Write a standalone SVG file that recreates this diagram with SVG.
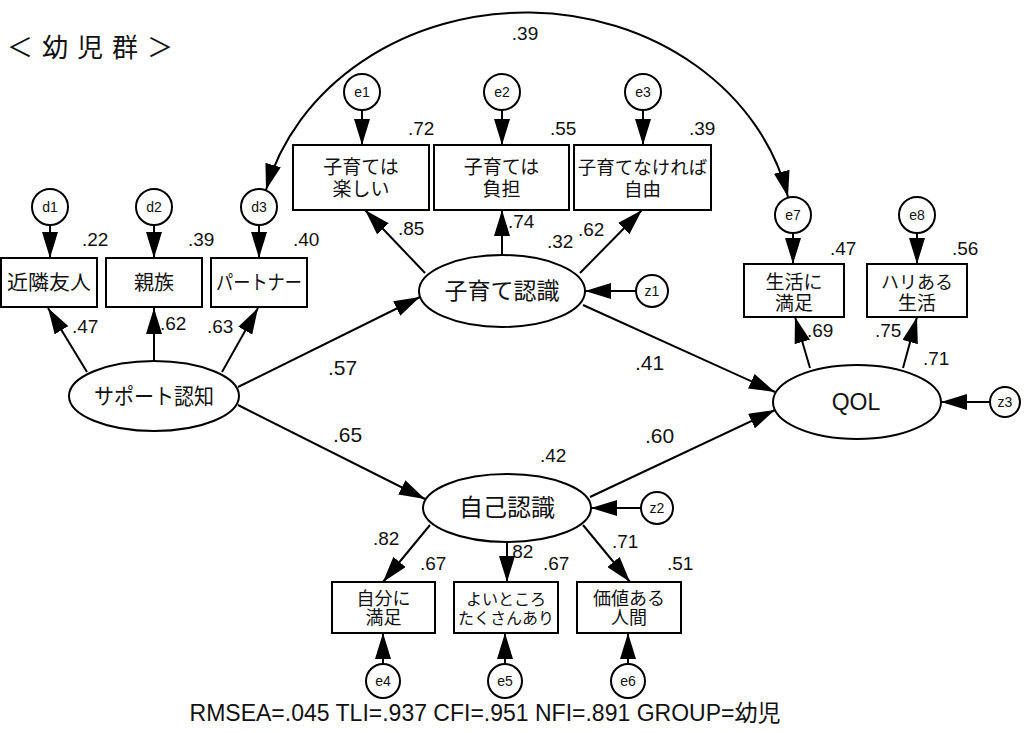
<svg xmlns="http://www.w3.org/2000/svg" width="1030" height="733" viewBox="0 0 1030 733">
<style>
.bx{fill:#fff;stroke:#000;stroke-width:2}
.ov{fill:#fff;stroke:#000;stroke-width:2}
.ln{fill:none;stroke:#000;stroke-width:2;marker-end:url(#ah)}
.jp{font-family:"Noto Sans CJK JP","Noto Sans CJK SC",sans-serif;fill:#111;text-anchor:middle}
.num{font-family:"Liberation Sans",Arial,sans-serif;font-size:19px;fill:#111}
.big{font-family:"Liberation Sans",Arial,sans-serif;font-size:21px;fill:#111}
.sm{font-family:"Liberation Sans",Arial,sans-serif;font-size:14px;fill:#111;text-anchor:middle}
</style>
<defs>
<marker id="ah" markerUnits="userSpaceOnUse" markerWidth="26" markerHeight="16" refX="26" refY="8" orient="auto-start-reverse" viewBox="0 0 26 16">
<path d="M0,0 L26,8 L0,16 Z" fill="#000"/>
</marker>
</defs>
<rect width="1030" height="733" fill="#fff"/>
<text x="7" y="57" class="jp" style="text-anchor:start;font-size:26px;letter-spacing:9px">＜幼児群＞</text>

<g id="connectors">
<path class="ln" d="M266 190 A268 234 0 0 1 788 197" style="marker-start:url(#ah)"/>
<path class="ln" d="M87 372 L48 308"/>
<path class="ln" d="M154 361 L154 308"/>
<path class="ln" d="M222 372 L258 308"/>
<path class="ln" d="M50 225 L50 258"/>
<path class="ln" d="M154 225 L154 258"/>
<path class="ln" d="M259 225 L259 258"/>
<path class="ln" d="M362 110 L362 145"/>
<path class="ln" d="M502 110 L502 145"/>
<path class="ln" d="M643 110 L643 145"/>
<path class="ln" d="M425 273 L365 210"/>
<path class="ln" d="M502 255 L502 210"/>
<path class="ln" d="M580 273 L642 210"/>
<path class="ln" d="M636 291 L585 291"/>
<path class="ln" d="M238 387 L420 297"/>
<path class="ln" d="M238 405 L425 499"/>
<path class="ln" d="M583 305 L775 392"/>
<path class="ln" d="M590 497 L775 410"/>
<path class="ln" d="M641 508 L591 508"/>
<path class="ln" d="M990 402 L941 402"/>
<path class="ln" d="M810 368 L795 317"/>
<path class="ln" d="M903 368 L917 317"/>
<path class="ln" d="M793 233 L793 264"/>
<path class="ln" d="M917 233 L917 264"/>
<path class="ln" d="M430 525 L383 582"/>
<path class="ln" d="M507 542 L507 582"/>
<path class="ln" d="M583 525 L630 582"/>
<path class="ln" d="M383 664 L383 633"/>
<path class="ln" d="M505 664 L505 633"/>
<path class="ln" d="M628 664 L628 633"/>
</g>

<g id="d1"><circle class="ov" cx="50" cy="207" r="18"/><text class="sm" x="50" y="212">d1</text></g>
<g id="d2"><circle class="ov" cx="154" cy="207" r="18"/><text class="sm" x="154" y="212">d2</text></g>
<g id="d3"><circle class="ov" cx="259" cy="207" r="18"/><text class="sm" x="259" y="212">d3</text></g>
<g id="e1"><circle class="ov" cx="362" cy="92" r="18"/><text class="sm" x="362" y="97">e1</text></g>
<g id="e2"><circle class="ov" cx="502" cy="92" r="18"/><text class="sm" x="502" y="97">e2</text></g>
<g id="e3"><circle class="ov" cx="643" cy="92" r="18"/><text class="sm" x="643" y="97">e3</text></g>
<g id="e7"><circle class="ov" cx="793" cy="215" r="18"/><text class="sm" x="793" y="220">e7</text></g>
<g id="e8"><circle class="ov" cx="917" cy="215" r="18"/><text class="sm" x="917" y="220">e8</text></g>
<g id="e4"><circle class="ov" cx="383" cy="681" r="17"/><text class="sm" x="383" y="686">e4</text></g>
<g id="e5"><circle class="ov" cx="505" cy="681" r="17"/><text class="sm" x="505" y="686">e5</text></g>
<g id="e6"><circle class="ov" cx="628" cy="681" r="17"/><text class="sm" x="628" y="686">e6</text></g>
<g id="z1"><circle class="ov" cx="652" cy="291" r="16"/><text class="sm" x="652" y="296">z1</text></g>
<g id="z2"><circle class="ov" cx="657" cy="508" r="16"/><text class="sm" x="657" y="513">z2</text></g>
<g id="z3"><circle class="ov" cx="1005" cy="402" r="15"/><text class="sm" x="1005" y="407">z3</text></g>

<g id="kinrin"><rect class="bx" x="1" y="258" width="96" height="49"/><text class="jp" x="49" y="290" style="font-size:20px" textLength="84" lengthAdjust="spacingAndGlyphs">近隣友人</text></g>
<g id="shinzoku"><rect class="bx" x="106" y="258" width="96" height="49"/><text class="jp" x="154" y="290" style="font-size:20px">親族</text></g>
<g id="partner"><rect class="bx" x="211" y="258" width="96" height="49"/><text class="jp" x="259" y="290" style="font-size:20px" textLength="86" lengthAdjust="spacingAndGlyphs">パートナー</text></g>

<g id="tanoshii"><rect class="bx" x="293" y="145" width="136" height="65"/><text class="jp" style="font-size:19px"><tspan x="361" y="174">子育ては</tspan><tspan x="361" y="196">楽しい</tspan></text></g>
<g id="futan"><rect class="bx" x="434" y="145" width="135" height="65"/><text class="jp" style="font-size:19px"><tspan x="501.5" y="174">子育ては</tspan><tspan x="501.5" y="196">負担</tspan></text></g>
<g id="jiyu"><rect class="bx" x="574" y="145" width="137" height="65"/><text class="jp" style="font-size:18.5px"><tspan x="642.5" y="174">子育てなければ</tspan><tspan x="642.5" y="196">自由</tspan></text></g>

<g id="seikatsu"><rect class="bx" x="744" y="264" width="100" height="53"/><text class="jp" style="font-size:19px"><tspan x="794" y="289">生活に</tspan><tspan x="794" y="310">満足</tspan></text></g>
<g id="hari"><rect class="bx" x="867" y="264" width="100" height="53"/><text class="jp" style="font-size:18px"><tspan x="917" y="289">ハリある</tspan><tspan x="917" y="310" style="font-size:19px">生活</tspan></text></g>

<g id="jibun"><rect class="bx" x="332" y="582" width="103" height="51"/><text class="jp" style="font-size:18px"><tspan x="383.5" y="605">自分に</tspan><tspan x="383.5" y="624">満足</tspan></text></g>
<g id="yoi"><rect class="bx" x="454" y="582" width="104" height="51"/><text class="jp" style="font-size:16px"><tspan x="506" y="605">よいところ</tspan><tspan x="506" y="624">たくさんあり</tspan></text></g>
<g id="kachi"><rect class="bx" x="577" y="582" width="104" height="51"/><text class="jp" style="font-size:18px"><tspan x="629" y="605">価値ある</tspan><tspan x="629" y="624">人間</tspan></text></g>

<g id="support"><ellipse class="ov" cx="154" cy="396" rx="85" ry="35"/><text class="jp" x="154" y="404" style="font-size:22px" textLength="120" lengthAdjust="spacingAndGlyphs">サポート認知</text></g>
<g id="kosodate"><ellipse class="ov" cx="502" cy="291" rx="83" ry="36"/><text class="jp" x="502" y="299" style="font-size:23px" textLength="115" lengthAdjust="spacingAndGlyphs">子育て認識</text></g>
<g id="jiko"><ellipse class="ov" cx="507" cy="508" rx="84" ry="34"/><text class="jp" x="507" y="516" style="font-size:24px">自己認識</text></g>
<g id="qol"><ellipse class="ov" cx="857" cy="402" rx="84" ry="37"/><text x="856" y="410" style="font-family:'Liberation Sans',Arial,sans-serif;font-size:23px;text-anchor:middle;fill:#111">QOL</text></g>

<g id="labels">
<text class="num" x="525" y="40" style="text-anchor:middle">.39</text>
<text class="num" x="408" y="135">.72</text>
<text class="num" x="550" y="135">.55</text>
<text class="num" x="689" y="135">.39</text>
<text class="num" x="398" y="235">.85</text>
<text class="num" x="508" y="228">.74</text>
<text class="num" x="547" y="248">.32</text>
<text class="num" x="578" y="236">.62</text>
<text class="num" x="82" y="246">.22</text>
<text class="num" x="188" y="246">.39</text>
<text class="num" x="293" y="246">.40</text>
<text class="num" x="72" y="333">.47</text>
<text class="num" x="160" y="330">.62</text>
<text class="num" x="207" y="333">.63</text>
<text class="big" x="328" y="375">.57</text>
<text class="big" x="333" y="442">.65</text>
<text class="big" x="635" y="370">.41</text>
<text class="big" x="645" y="443">.60</text>
<text class="num" x="540" y="462">.42</text>
<text class="num" x="373" y="545">.82</text>
<text class="num" x="420" y="570">.67</text>
<text class="num" x="507" y="558">.82</text>
<text class="num" x="543" y="570">.67</text>
<text class="num" x="612" y="548">.71</text>
<text class="num" x="667" y="570">.51</text>
<text class="num" x="830" y="255">.47</text>
<text class="num" x="952" y="255">.56</text>
<text class="num" x="807" y="337">.69</text>
<text class="num" x="875" y="337">.75</text>
<text class="num" x="923" y="365">.71</text>
</g>

<text x="485" y="721" style="font-family:'Liberation Sans',Arial,'Noto Sans CJK JP',sans-serif;font-size:23px;text-anchor:middle;fill:#111">RMSEA=.045 TLI=.937 CFI=.951 NFI=.891 GROUP=幼児</text>
</svg>
